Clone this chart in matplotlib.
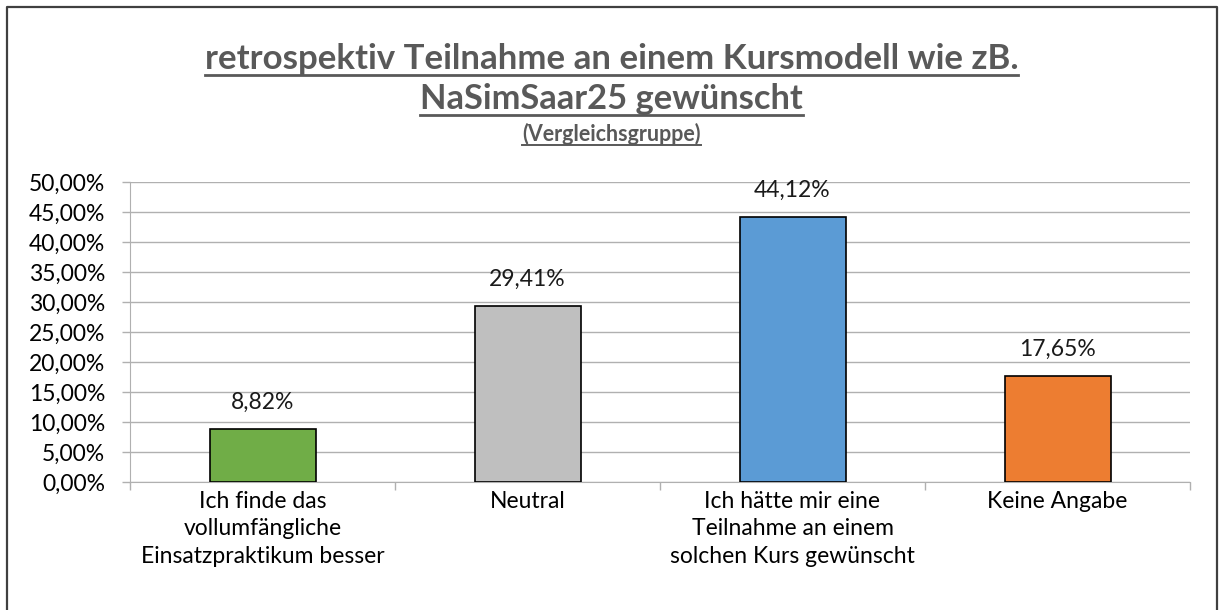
import matplotlib.pyplot as plt
from matplotlib.lines import Line2D
import numpy as np

categories = [
    "Ich finde das\nvollumfängliche\nEinsatzpraktikum besser",
    "Neutral",
    "Ich hätte mir eine\nTeilnahme an einem\nsolchen Kurs gewünscht",
    "Keine Angabe",
]
values = [8.82, 29.41, 44.12, 17.65]
colors = ["#70ad47", "#bfbfbf", "#5b9bd5", "#ed7d31"]
yticks = np.arange(0, 55, 5)

plt.rcParams["font.family"] = ["Lato", "DejaVu Sans"]

W, H = 1223, 610
fig = plt.figure(figsize=(W / 100, H / 100), dpi=100)
ax = fig.add_axes([130 / W, 1 - 482 / H, 1060 / W, 300 / H])

x = np.arange(len(values))
ax.bar(x, values, width=0.4, color=colors, edgecolor="black", linewidth=1.2, zorder=3)
for xi, v in zip(x, values):
    ax.annotate(f"{v:.2f}%".replace(".", ","), (xi, v), xytext=(0, 14.5), textcoords="offset points",
                ha="center", va="baseline", fontsize=16.5, color="#1a1a1a")

ax.set_xlim(-0.5, len(values) - 0.5)
ax.set_ylim(0, 50)
ax.set_yticks(yticks)
ax.set_yticklabels([f"{t:.2f}%".replace(".", ",") for t in yticks], fontsize=16.5, color="#000000")
ax.yaxis.grid(True, color="#b0b0b0", linewidth=1.0, zorder=0)
ax.tick_params(axis="y", length=6, width=1.0, color="#b0b0b0", pad=12)

# category labels between boundary ticks
ax.set_xticks(np.arange(-0.5, len(values), 1.0))
ax.set_xticklabels([])
ax.tick_params(axis="x", length=6, width=1.0, color="#b0b0b0")
for xi, lab in zip(x, categories):
    ax.annotate(lab, (xi, 0), xytext=(0, -6.5), textcoords="offset points",
                ha="center", va="top", fontsize=16.5, color="#000000", linespacing=1.38)

for s in ["top", "right"]:
    ax.spines[s].set_visible(False)
for s in ["left", "bottom"]:
    ax.spines[s].set_color("#b0b0b0")

# titles with underline
title_color = "#595959"
t1 = fig.text(0.5, 1 - 69 / H, "retrospektiv Teilnahme an einem Kursmodell wie zB.", ha="center",
              va="baseline", fontsize=25.1, fontweight="bold", color=title_color)
t2 = fig.text(0.5, 1 - 109 / H, "NaSimSaar25 gewünscht", ha="center",
              va="baseline", fontsize=24.8, fontweight="bold", color=title_color)
t3 = fig.text(0.5, 1 - 141 / H, "(Vergleichsgruppe)", ha="center",
              va="baseline", fontsize=15.5, fontweight="bold", color=title_color)

fig.canvas.draw()
renderer = fig.canvas.get_renderer()
for t, off, lw in [(t1, 6, 2.0), (t2, 6, 2.0), (t3, 4, 1.4)]:
    bb = t.get_window_extent(renderer).transformed(fig.transFigure.inverted())
    yline = t.get_position()[1] - off / H
    fig.add_artist(Line2D([bb.x0, bb.x1], [yline, yline], transform=fig.transFigure,
                          color=title_color, linewidth=lw))

# chart frame (bottom edge cut off)
fig.add_artist(Line2D([7 / W, 7 / W, 1217 / W, 1217 / W],
                      [0, 1 - 7 / H, 1 - 7 / H, 0], transform=fig.transFigure,
                      color="#404040", linewidth=1.6))

fig.savefig("out.png", dpi=100)
